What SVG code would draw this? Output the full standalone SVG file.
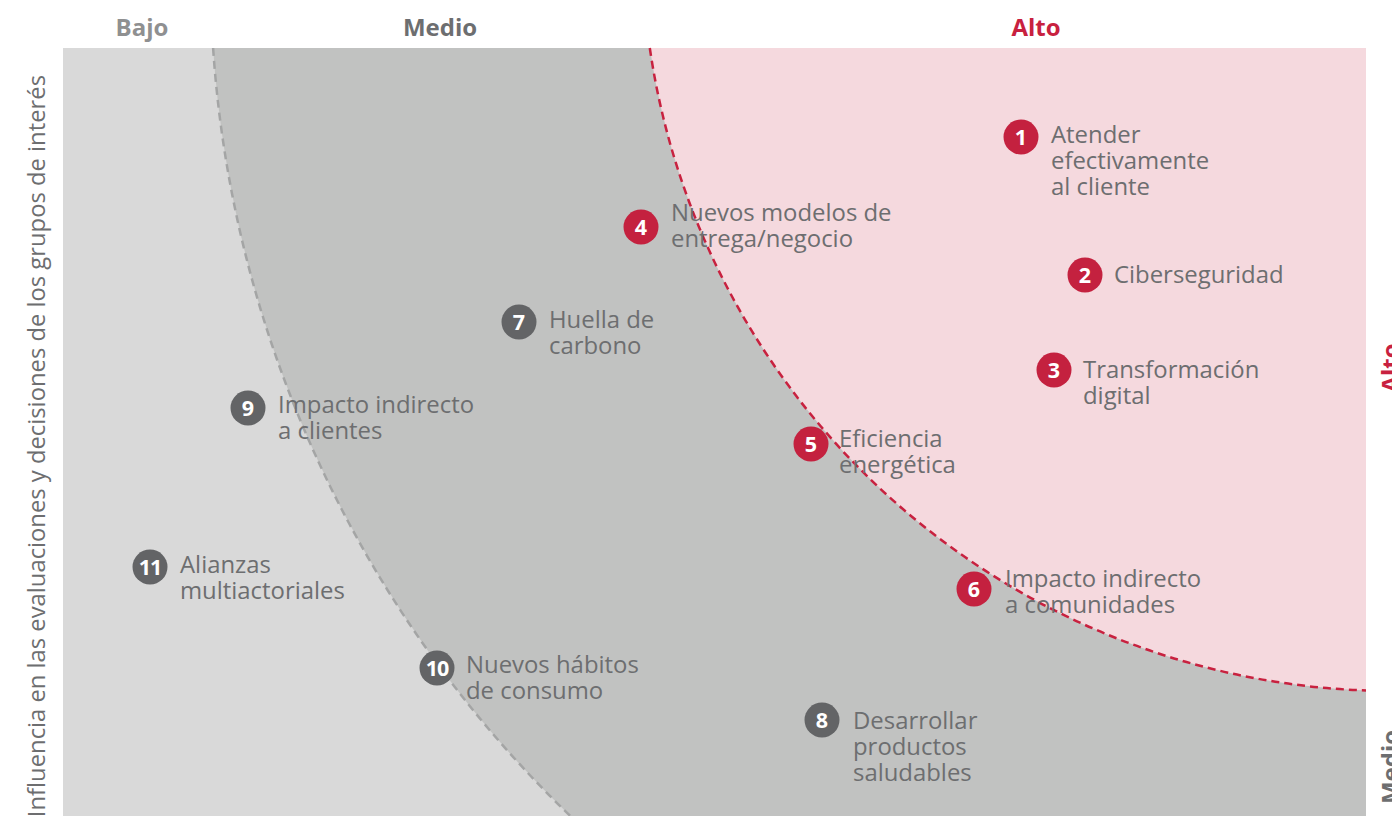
<svg xmlns="http://www.w3.org/2000/svg" width="1392" height="816" viewBox="0 0 1392 816">
<defs>
<style>
.hdr{font-family:"Open Sans","Liberation Sans",sans-serif;font-weight:700;font-size:24px;text-anchor:middle}
.lbl{font-family:"Open Sans","Liberation Sans",sans-serif;font-size:23.9px;fill:#6d6e70}
.num{font-family:"Open Sans","Liberation Sans",sans-serif;font-weight:700;font-size:21.5px;fill:#ffffff;text-anchor:middle}
.red{fill:#c4213f}
.dark{fill:#636466}
</style>
</defs>
<rect width="1392" height="816" fill="#ffffff"/>
<g id="zones">
<rect x="63" y="48" width="1303" height="768" fill="#d9d9d9"/>
<path d="M213.1,48 A1175,1175 0 0 0 570.3,816 L1366,816 L1366,48 Z" fill="#c1c2c1"/>
<path d="M649.8,48 A751,751 0 0 0 1366,690.5 L1366,48 Z" fill="#f5d9de"/>
</g>
<g id="connectors" fill="none" stroke-width="2.5">
<path d="M213.1,48 A1175,1175 0 0 0 570.3,816" stroke="#a4a5a5" stroke-dasharray="8,5"/>
<path d="M649.8,48 A751,751 0 0 0 1366,690.5" stroke="#c8213f" stroke-dasharray="8,5"/>
</g>
<g id="headers">
<text class="hdr" x="142" y="36" fill="#8f9091">Bajo</text>
<text class="hdr" x="440" y="36" fill="#6d6e70">Medio</text>
<text class="hdr" x="1036" y="36" fill="#c8213f">Alto</text>
<text class="hdr" transform="translate(1399,368) rotate(-90)" fill="#c8213f">Alto</text>
<text class="hdr" transform="translate(1399,767) rotate(-90)" fill="#6d6e70">Medio</text>
<text transform="translate(45,75) rotate(-90)" font-family="'Open Sans','Liberation Sans',sans-serif" font-size="23.8" fill="#6d6e70" text-anchor="end">Influencia en las evaluaciones y decisiones de los grupos de interés</text>
</g>
<g id="n1"><circle class="red" cx="1021" cy="137" r="17.5"/><text class="num" x="1021" y="144.5">1</text><text class="lbl" x="1051" y="143">Atender<tspan x="1051" dy="25.8">efectivamente</tspan><tspan x="1051" dy="25.8">al cliente</tspan></text></g>
<g id="n2"><circle class="red" cx="1085" cy="275" r="17.5"/><text class="num" x="1085" y="282.5">2</text><text class="lbl" x="1114" y="283">Ciberseguridad</text></g>
<g id="n3"><circle class="red" cx="1054" cy="370" r="17.5"/><text class="num" x="1054" y="377.5">3</text><text class="lbl" x="1083" y="378">Transformación<tspan x="1083" dy="25.8">digital</tspan></text></g>
<g id="n4"><circle class="red" cx="641" cy="227" r="17.5"/><text class="num" x="641" y="234.5">4</text><text class="lbl" x="671" y="221">Nuevos modelos de<tspan x="671" dy="25.8">entrega/negocio</tspan></text></g>
<g id="n5"><circle class="red" cx="811" cy="444" r="17.5"/><text class="num" x="811" y="451.5">5</text><text class="lbl" x="839" y="447">Eficiencia<tspan x="839" dy="25.8">energética</tspan></text></g>
<g id="n6"><circle class="red" cx="974" cy="589" r="17.5"/><text class="num" x="974" y="596.5">6</text><text class="lbl" x="1005" y="587">Impacto indirecto<tspan x="1005" dy="25.8">a comunidades</tspan></text></g>
<g id="n7"><circle class="dark" cx="519" cy="322" r="17.5"/><text class="num" x="519" y="329.5">7</text><text class="lbl" x="549" y="328">Huella de<tspan x="549" dy="25.8">carbono</tspan></text></g>
<g id="n8"><circle class="dark" cx="822" cy="720" r="17.5"/><text class="num" x="822" y="727.5">8</text><text class="lbl" x="853" y="729">Desarrollar<tspan x="853" dy="25.8">productos</tspan><tspan x="853" dy="25.8">saludables</tspan></text></g>
<g id="n9"><circle class="dark" cx="248" cy="408" r="17.5"/><text class="num" x="248" y="415.5">9</text><text class="lbl" x="278" y="413">Impacto indirecto<tspan x="278" dy="25.8">a clientes</tspan></text></g>
<g id="n10"><circle class="dark" cx="437" cy="668" r="17.5"/><text class="num" x="437" y="675.5" letter-spacing="-1">10</text><text class="lbl" x="466" y="673">Nuevos hábitos<tspan x="466" dy="25.8">de consumo</tspan></text></g>
<g id="n11"><circle class="dark" cx="150" cy="567" r="17.5"/><text class="num" x="150" y="574.5" letter-spacing="-1">11</text><text class="lbl" x="180" y="573">Alianzas<tspan x="180" dy="25.8">multiactoriales</tspan></text></g>
</svg>
